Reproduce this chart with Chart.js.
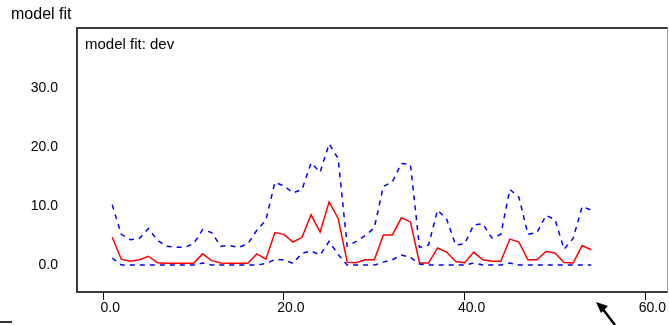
<!DOCTYPE html>
<html>
<head>
<meta charset="utf-8">
<script src="https://cdn.jsdelivr.net/npm/chart.js@4.4.3/dist/chart.umd.min.js"></script>
<style>
  html, body { margin: 0; padding: 0; background: #fff; }
  #wrap { width: 669px; height: 325px; position: relative; }
</style>
</head>
<body>
<div id="wrap"><canvas id="fit"></canvas></div>
<script>
// x positions (observation index)
const xValues = [1, 2, 3, 4, 5, 6, 7, 8, 9, 10, 11, 12, 13, 14, 15, 16, 17, 18, 19, 20,
  21, 22, 23, 24, 25, 26, 27, 28, 29, 30, 31, 32, 33, 34, 35, 36, 37, 38, 39, 40,
  41, 42, 43, 44, 45, 46, 47, 48, 49, 50, 51, 52, 53, 54];

// fitted dev (solid red)
const fitValues = [4.7, 1.0, 0.65, 0.9, 1.5, 0.4, 0.3, 0.3, 0.3, 0.3, 1.9, 0.75, 0.35, 0.3, 0.3, 0.3, 1.9, 1.0, 5.5, 5.2,
  3.9, 4.7, 8.5, 5.6, 10.7, 7.9, 0.5, 0.4, 0.9, 0.9, 5.1, 5.1, 8.0, 7.3, 0.35, 0.35, 2.9, 2.2, 0.6, 0.4,
  2.2, 0.9, 0.65, 0.65, 4.4, 3.9, 0.9, 0.9, 2.3, 2.05, 0.45, 0.35, 3.3, 2.6];

// upper bound (blue dashed)
const upperValues = [10.2, 5.2, 4.3, 4.5, 6.2, 4.2, 3.2, 3.0, 3.0, 3.6, 6.0, 5.5, 3.2, 3.3, 3.0, 3.6, 5.9, 7.6, 14.0, 13.4,
  12.2, 12.8, 17.3, 15.7, 20.5, 18.0, 3.2, 4.0, 5.0, 6.3, 13.3, 14.1, 17.2, 17.0, 3.0, 3.4, 9.3, 7.8, 3.4, 3.6,
  6.8, 7.0, 4.6, 5.2, 12.8, 11.5, 5.2, 5.5, 8.4, 7.7, 2.7, 4.5, 9.9, 9.3];

// lower bound (blue dashed)
const lowerValues = [1.2, 0, 0, 0, 0, 0, 0, 0, 0, 0, 0.35, 0, 0, 0, 0, 0, 0, 0.3, 0.9, 0.9,
  0.3, 2.0, 2.4, 1.7, 4.0, 1.8, 0, 0, 0, 0, 0.5, 0.9, 1.7, 1.3, 0.2, 0, 0, 0, 0, 0,
  0.35, 0, 0, 0, 0.35, 0, 0, 0, 0, 0, 0, 0, 0, 0];

const xTicks = [0, 20, 40, 60];
const yTicks = [0, 10, 20, 30];

const titleText = 'model fit';
const panelText = 'model fit: dev';

const FONT = "'Liberation Sans', Arial, sans-serif";

const pts = vals => vals.map((v, i) => ({ x: xValues[i], y: v }));

// frame, headings and the little screen leftovers
const framePlugin = {
  id: 'frame',
  afterDraw(chart) {
    const { ctx, chartArea: a } = chart;
    ctx.save();
    ctx.strokeStyle = '#3a3a3a';
    ctx.lineWidth = 2;
    ctx.beginPath();
    ctx.moveTo(a.left, a.bottom);
    ctx.lineTo(a.left, a.top);
    ctx.lineTo(a.right, a.top);
    ctx.moveTo(a.left - 1, a.bottom);
    ctx.lineTo(a.right, a.bottom);
    ctx.stroke();
    ctx.strokeStyle = '#a0a0a0';
    ctx.lineWidth = 1;
    ctx.beginPath();
    ctx.moveTo(a.right - 0.5, a.top);
    ctx.lineTo(a.right - 0.5, a.bottom);
    ctx.stroke();

    ctx.fillStyle = '#000';
    ctx.textBaseline = 'middle';
    ctx.font = '16px ' + FONT;
    ctx.fillText(titleText, 11, 15);
    ctx.font = '15px ' + FONT;
    ctx.fillText(panelText, a.left + 8, a.top + 17);

    // stray dash bottom-left
    ctx.fillStyle = '#333';
    ctx.fillRect(0, 321, 12, 2);

    // mouse pointer
    ctx.fillStyle = '#000';
    ctx.beginPath();
    ctx.moveTo(596, 302);
    ctx.lineTo(608, 306);
    ctx.lineTo(601, 313);
    ctx.closePath();
    ctx.fill();
    ctx.lineWidth = 2.5;
    ctx.strokeStyle = '#000';
    ctx.beginPath();
    ctx.moveTo(602, 308);
    ctx.lineTo(615, 325);
    ctx.stroke();
    ctx.restore();
  }
};

new Chart(document.getElementById('fit'), {
  type: 'line',
  data: {
    datasets: [
      { label: 'upper', data: pts(upperValues), borderColor: '#0000ff', borderWidth: 1.5, borderDash: [5, 5] },
      { label: 'lower', data: pts(lowerValues), borderColor: '#0000ff', borderWidth: 1.5, borderDash: [5, 5] },
      { label: 'dev', data: pts(fitValues), borderColor: '#ff0000', borderWidth: 1.5 }
    ]
  },
  options: {
    responsive: true,
    maintainAspectRatio: false,
    animation: false,
    elements: { point: { radius: 0 }, line: { tension: 0, fill: false } },
    layout: { padding: { top: 28, right: 1, left: 0, bottom: 0 } },
    plugins: { legend: { display: false }, tooltip: { enabled: false } },
    scales: {
      x: {
        type: 'linear',
        min: -2.9,
        max: 62.5,
        afterBuildTicks: s => { s.ticks = xTicks.map(v => ({ value: v })); },
        afterFit: s => { s.height = 33; },
        border: { display: false },
        grid: { drawOnChartArea: false, drawTicks: true, tickLength: 8, color: '#000' },
        ticks: {
          color: '#000',
          font: { family: FONT, size: 14 },
          padding: 0,
          labelOffset: 7,
          maxRotation: 0,
          callback: v => Number(v).toFixed(1)
        }
      },
      y: {
        min: -4.55,
        max: 40.1,
        afterBuildTicks: s => { s.ticks = yTicks.map(v => ({ value: v })); },
        afterFit: s => { s.width = 77; },
        border: { display: false },
        grid: { display: false },
        ticks: {
          color: '#000',
          font: { family: FONT, size: 14 },
          padding: 11,
          callback: v => Number(v).toFixed(1)
        }
      }
    }
  },
  plugins: [framePlugin]
});
</script>
</body>
</html>
